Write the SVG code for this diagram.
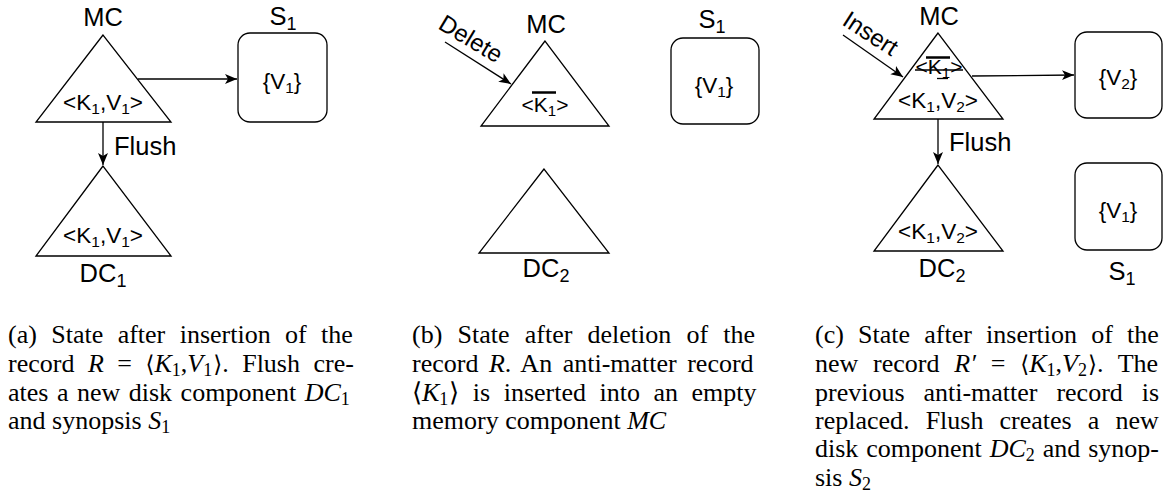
<svg xmlns="http://www.w3.org/2000/svg" width="1171" height="500" viewBox="0 0 1171 500">
<style>
.shape{fill:#fff;stroke:#000;stroke-width:1.3}
.ln{fill:none;stroke:#000;stroke-width:1.3}
.bar{fill:none;stroke:#000;stroke-width:2.5}
.lbl{font-family:"Liberation Sans",Arial,sans-serif;font-size:25.5px;fill:#000}
.in{font-family:"Liberation Sans",Arial,sans-serif;font-size:22.5px;fill:#000}
.in21{font-family:"Liberation Sans",Arial,sans-serif;font-size:21px;fill:#000}
.rot{font-family:"Liberation Sans",Arial,sans-serif;font-size:24px;fill:#000}
.cap{font-family:"Liberation Serif","Times New Roman",serif;font-size:26px;fill:#000}
.it{font-style:italic}
.m{font-family:"DejaVu Serif","Liberation Serif",serif;font-size:23px}
.sb{font-size:18px}
</style>
<defs>
<marker id="ah" markerUnits="userSpaceOnUse" markerWidth="13" markerHeight="11" refX="12" refY="5" orient="auto">
<path d="M0,0 L12,5 L0,10 L3,5 Z" fill="#000"/>
</marker>
</defs>

<!-- Panel (a) -->
<g id="a-mc">
<text class="lbl" x="103" y="26" text-anchor="middle">MC</text>
<polygon class="shape" points="103,35 36,122 171,122"/>
<text class="in" x="103" y="110" text-anchor="middle">&lt;K<tspan font-size="15.5" dy="4">1</tspan><tspan dy="-4">,V</tspan><tspan font-size="15.5" dy="4">1</tspan><tspan dy="-4">&gt;</tspan></text>
</g>
<g id="a-s1">
<text class="lbl" x="283" y="25" text-anchor="middle">S<tspan font-size="18" dy="5">1</tspan></text>
<rect class="shape" x="238" y="33" width="89" height="89" rx="12"/>
<text class="in" x="282" y="89" text-anchor="middle">{V<tspan font-size="15.5" dy="4">1</tspan><tspan dy="-4">}</tspan></text>
</g>
<g id="a-dc1">
<polygon class="shape" points="103,166 36,256 171,256"/>
<text class="in" x="103" y="243" text-anchor="middle">&lt;K<tspan font-size="15.5" dy="4">1</tspan><tspan dy="-4">,V</tspan><tspan font-size="15.5" dy="4">1</tspan><tspan dy="-4">&gt;</tspan></text>
<text class="lbl" x="103" y="282" text-anchor="middle">DC<tspan font-size="18" dy="5">1</tspan></text>
</g>

<!-- Panel (b) -->
<g id="b-mc">
<text class="lbl" x="546" y="33" text-anchor="middle">MC</text>
<polygon class="shape" points="545,41 481,126 609,126"/>
<text class="in21" x="545" y="112" text-anchor="middle">&lt;K<tspan font-size="15" dy="4">1</tspan><tspan dy="-4">&gt;</tspan></text>
<line class="bar" x1="532" y1="92.5" x2="556" y2="92.5"/>
</g>
<g id="b-s1">
<text class="lbl" x="712" y="28" text-anchor="middle">S<tspan font-size="18" dy="5">1</tspan></text>
<rect class="shape" x="671" y="38" width="88" height="86" rx="12"/>
<text class="in" x="714" y="93" text-anchor="middle">{V<tspan font-size="15.5" dy="4">1</tspan><tspan dy="-4">}</tspan></text>
</g>
<g id="b-dc2">
<polygon class="shape" points="544,169 479,253 609,253"/>
<text class="lbl" x="546" y="277" text-anchor="middle">DC<tspan font-size="18" dy="5">2</tspan></text>
</g>
<g id="b-delete">
<text class="rot" transform="translate(437,28) rotate(31)">Delete</text>
</g>

<!-- Panel (c) -->
<g id="c-mc">
<text class="lbl" x="939" y="25" text-anchor="middle">MC</text>
<polygon class="shape" points="938,33 874,119 1003,119"/>
<text class="in21" x="939" y="74" text-anchor="middle">&lt;K<tspan font-size="15" dy="4">1</tspan><tspan dy="-4">&gt;</tspan></text>
<line class="bar" x1="926" y1="57.5" x2="950" y2="57.5"/>
<line class="ln" x1="915" y1="70" x2="963" y2="70"/>
<line class="ln" x1="937" y1="78.5" x2="948" y2="78.5"/>
<text class="in" x="938" y="108" text-anchor="middle">&lt;K<tspan font-size="15.5" dy="4">1</tspan><tspan dy="-4">,V</tspan><tspan font-size="15.5" dy="4">2</tspan><tspan dy="-4">&gt;</tspan></text>
</g>
<g id="c-s2">
<rect class="shape" x="1075" y="32" width="87" height="86" rx="12"/>
<text class="in" x="1118" y="85" text-anchor="middle">{V<tspan font-size="15.5" dy="4">2</tspan><tspan dy="-4">}</tspan></text>
</g>
<g id="c-dc2">
<polygon class="shape" points="938,165 874,251 1003,251"/>
<text class="in" x="938" y="239" text-anchor="middle">&lt;K<tspan font-size="15.5" dy="4">1</tspan><tspan dy="-4">,V</tspan><tspan font-size="15.5" dy="4">2</tspan><tspan dy="-4">&gt;</tspan></text>
<text class="lbl" x="942" y="277" text-anchor="middle">DC<tspan font-size="18" dy="5">2</tspan></text>
</g>
<g id="c-s1">
<rect class="shape" x="1075" y="163" width="87" height="87" rx="12"/>
<text class="in" x="1118" y="218" text-anchor="middle">{V<tspan font-size="15.5" dy="4">1</tspan><tspan dy="-4">}</tspan></text>
<text class="lbl" x="1122" y="280" text-anchor="middle">S<tspan font-size="18" dy="5">1</tspan></text>
</g>
<g id="c-insert">
<text class="rot" transform="translate(841,24) rotate(33)">Insert</text>
</g>

<!-- Connectors -->
<g id="connectors">
<line class="ln" x1="138" y1="79" x2="237" y2="79" marker-end="url(#ah)"/>
<line class="ln" x1="103" y1="122" x2="103" y2="165" marker-end="url(#ah)"/>
<text class="lbl" x="114" y="155">Flush</text>
<line class="ln" x1="445" y1="42" x2="511" y2="84" marker-end="url(#ah)"/>
<line class="ln" x1="972" y1="76" x2="1074" y2="75" marker-end="url(#ah)"/>
<line class="ln" x1="843" y1="35" x2="903" y2="77" marker-end="url(#ah)"/>
<line class="ln" x1="938" y1="119" x2="938" y2="164" marker-end="url(#ah)"/>
<text class="lbl" x="949" y="151">Flush</text>
</g>

<!-- Captions -->
<g id="caption-a" class="cap">
<text x="8" y="343" word-spacing="7.9">(a) State after insertion of the</text>
<text x="8" y="372" word-spacing="7">record <tspan class="it">R</tspan> = <tspan class="m">⟨</tspan><tspan class="it">K</tspan><tspan class="sb" dy="4">1</tspan><tspan dy="-4">,</tspan><tspan class="it">V</tspan><tspan class="sb" dy="4">1</tspan><tspan dy="-4" dx="1" class="m">⟩</tspan>. Flush cre-</text>
<text x="8" y="401" word-spacing="2">ates a new disk component <tspan class="it">DC</tspan><tspan class="sb" dy="4">1</tspan></text>
<text x="8" y="429">and synopsis <tspan class="it">S</tspan><tspan class="sb" dy="4">1</tspan></text>
</g>
<g id="caption-b" class="cap">
<text x="412" y="343" word-spacing="8.7">(b) State after deletion of the</text>
<text x="412" y="372" word-spacing="4">record <tspan class="it">R</tspan>. An anti-matter record</text>
<text x="412" y="401" word-spacing="7">⟨<tspan class="it">K</tspan><tspan class="sb" dy="4">1</tspan><tspan dy="-4" dx="1">⟩</tspan> is inserted into an empty</text>
<text x="412" y="429">memory component <tspan class="it">MC</tspan></text>
</g>
<g id="caption-c" class="cap">
<text x="815" y="343" word-spacing="7.7">(c) State after insertion of the</text>
<text x="815" y="372" word-spacing="8.3">new record <tspan class="it">R′</tspan> = <tspan class="m">⟨</tspan><tspan class="it">K</tspan><tspan class="sb" dy="4">1</tspan><tspan dy="-4">,</tspan><tspan class="it">V</tspan><tspan class="sb" dy="4">2</tspan><tspan dy="-4" dx="1" class="m">⟩</tspan>. The</text>
<text x="815" y="401" word-spacing="12.4">previous anti-matter record is</text>
<text x="815" y="429" word-spacing="9.6">replaced. Flush creates a new</text>
<text x="815" y="457" word-spacing="1.4">disk component <tspan class="it">DC</tspan><tspan class="sb" dy="4">2</tspan><tspan dy="-4"> and synop-</tspan></text>
<text x="815" y="486">sis <tspan class="it">S</tspan><tspan class="sb" dy="4">2</tspan></text>
</g>
</svg>
